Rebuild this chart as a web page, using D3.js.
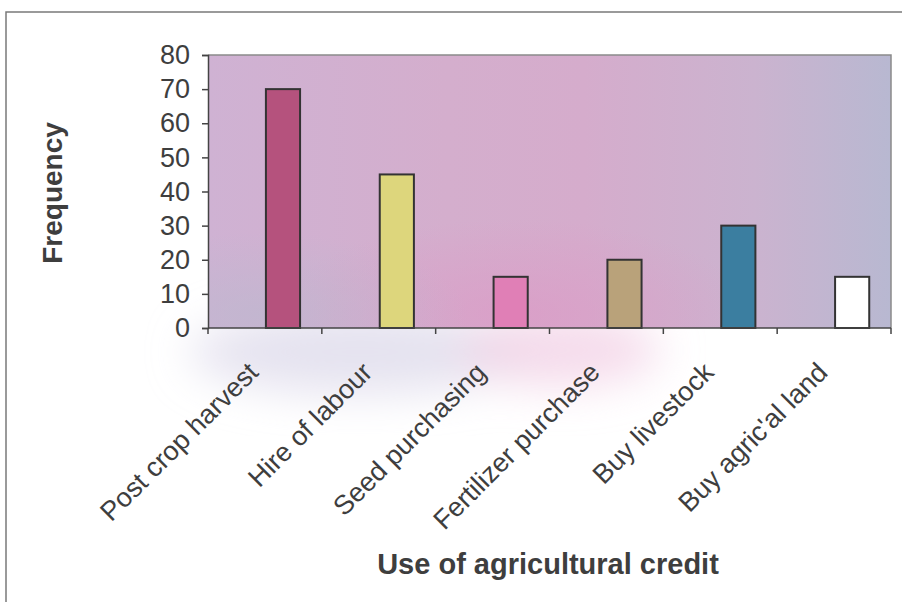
<!DOCTYPE html>
<html>
<head>
<meta charset="utf-8">
<script src="https://cdn.jsdelivr.net/npm/d3@7"></script>
<style>
  html, body { margin: 0; padding: 0; background: #ffffff; }
  svg { display: block; font-family: "Liberation Sans", Arial, sans-serif; }
</style>
</head>
<body>
<svg id="chart" width="902" height="602"></svg>
<script>
// Uses of agricultural credit and how often each was reported
const categories = ["Post crop harvest", "Hire of labour", "Seed purchasing",
                    "Fertilizer purchase", "Buy livestock", "Buy agric'al land"];
const frequency = [70, 45, 15, 20, 30, 15];
const barColors = ["#b5527d", "#ddd67c", "#e07fb6", "#b9a27a", "#3b7ea0", "#ffffff"];
const yTicks = [0, 10, 20, 30, 40, 50, 60, 70, 80];

const svg = d3.select("#chart");
const plot = { left: 208, right: 891, top: 55, bottom: 328 };

const x = d3.scaleBand().domain(categories).range([plot.left, plot.right]).padding(0);
const y = d3.scaleLinear().domain([0, 80]).range([plot.bottom, plot.top]);

const defs = svg.append("defs");

// plot-area fill: lavender-pink, warmer in the middle, bluer at the right
const lg = defs.append("linearGradient").attr("id", "bgH").attr("x1", 0).attr("x2", 1).attr("y1", 0).attr("y2", 0);
[[0, "#cfb2d3"], [0.35, "#d4aecd"], [0.55, "#d5accc"], [0.8, "#cbb3cf"], [1, "#b8b8d1"]]
  .forEach(([o, c]) => lg.append("stop").attr("offset", o).attr("stop-color", c));

const rPink = defs.append("radialGradient").attr("id", "bgPink")
  .attr("cx", 0.45).attr("cy", 0.95).attr("r", 0.35);
rPink.append("stop").attr("offset", 0).attr("stop-color", "#dc9ac6").attr("stop-opacity", 0.7);
rPink.append("stop").attr("offset", 1).attr("stop-color", "#dc9ac6").attr("stop-opacity", 0);

const rGrey = defs.append("radialGradient").attr("id", "bgGrey")
  .attr("cx", 0.08).attr("cy", 0.95).attr("r", 0.3);
rGrey.append("stop").attr("offset", 0).attr("stop-color", "#bdb8cf").attr("stop-opacity", 0.7);
rGrey.append("stop").attr("offset", 1).attr("stop-color", "#bdb8cf").attr("stop-opacity", 0);

defs.append("filter").attr("id", "soft").attr("x", "-50%").attr("y", "-50%").attr("width", "200%").attr("height", "200%")
  .append("feGaussianBlur").attr("stdDeviation", 22);

// outer frame (top and left edges)
svg.append("path").attr("d", "M6,602 V12 H902").attr("fill", "none").attr("stroke", "#7a7a7a").attr("stroke-width", 1.5);

// faint wash below the axis
const haze = svg.append("g").attr("filter", "url(#soft)");
haze.append("ellipse").attr("cx", 360).attr("cy", 352).attr("rx", 170).attr("ry", 42).attr("fill", "#dcd8ea").attr("opacity", 0.75);
haze.append("ellipse").attr("cx", 560).attr("cy", 350).attr("rx", 100).attr("ry", 36).attr("fill", "#f1cfe4").attr("opacity", 0.75);

// plot background
const pw = plot.right - plot.left, ph = plot.bottom - plot.top;
svg.append("rect").attr("x", plot.left).attr("y", plot.top).attr("width", pw).attr("height", ph).attr("fill", "url(#bgH)");
svg.append("rect").attr("x", plot.left).attr("y", plot.top).attr("width", pw).attr("height", ph).attr("fill", "url(#bgPink)");
svg.append("rect").attr("x", plot.left).attr("y", plot.top).attr("width", pw).attr("height", ph).attr("fill", "url(#bgGrey)");
svg.append("path")
  .attr("d", `M${plot.left},${plot.top} H${plot.right} V${plot.bottom}`)
  .attr("fill", "none").attr("stroke", "#8a8a8a").attr("stroke-width", 1.5);

// bars sit to the right of each category centre
const bw = x.bandwidth();
svg.append("g").selectAll("rect").data(categories).join("rect")
  .attr("x", d => x(d) + bw * 0.5 + 1)
  .attr("width", bw * 0.3)
  .attr("y", (d, i) => y(frequency[i]))
  .attr("height", (d, i) => y(0) - y(frequency[i]))
  .attr("fill", (d, i) => barColors[i])
  .attr("stroke", "#333333").attr("stroke-width", 2);

// y axis
const yAxis = svg.append("g").attr("transform", `translate(${plot.left},0)`)
  .call(d3.axisLeft(y).tickValues(yTicks).tickSize(6).tickPadding(12).tickFormat(d3.format("d")));
yAxis.select(".domain").attr("stroke", "#444").attr("stroke-width", 1.5);
yAxis.selectAll(".tick line").attr("stroke", "#444").attr("stroke-width", 1.5);
yAxis.selectAll(".tick text").attr("font-size", 27).attr("fill", "#3e3e3e")
  .attr("font-family", "Liberation Sans, Arial, sans-serif");

// x axis: ticks on the category boundaries
const xAxisG = svg.append("g").attr("transform", `translate(0,${plot.bottom})`);
xAxisG.append("line").attr("x1", plot.left).attr("x2", plot.right).attr("stroke", "#444").attr("stroke-width", 1.5);
xAxisG.selectAll("line.tk").data(categories.concat(["end"])).join("line").attr("class", "tk")
  .attr("x1", (d, i) => plot.left + i * bw).attr("x2", (d, i) => plot.left + i * bw)
  .attr("y1", 0).attr("y2", 6).attr("stroke", "#444").attr("stroke-width", 1.5);

// rotated category labels
svg.append("g").selectAll("text").data(categories).join("text")
  .attr("transform", d => `translate(${x(d) + bw / 2 - 5},${plot.bottom + 46}) rotate(-45)`)
  .attr("text-anchor", "end")
  .attr("font-size", 27).attr("fill", "#3e3e3e")
  .text(d => d);

// axis titles
svg.append("text").attr("transform", "translate(62,193) rotate(-90)")
  .attr("text-anchor", "middle").attr("font-size", 28).attr("font-weight", "bold").attr("fill", "#3e3e3e")
  .text("Frequency");
svg.append("text").attr("x", 548).attr("y", 574)
  .attr("text-anchor", "middle").attr("font-size", 29).attr("font-weight", "bold").attr("fill", "#3e3e3e")
  .text("Use of agricultural credit");
</script>
</body>
</html>
